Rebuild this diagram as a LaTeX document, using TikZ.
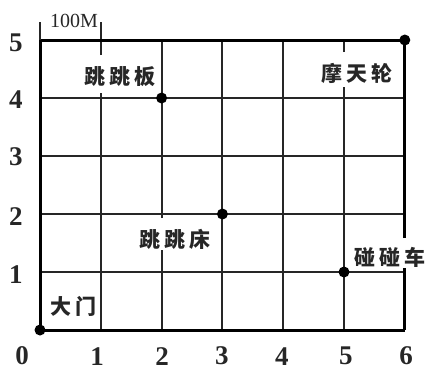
\documentclass[tikz,border=0pt]{standalone}
\usepackage{fontspec}
\setmainfont{Liberation Serif}
\newfontfamily\cjk{Noto Sans CJK SC}
\newcommand{\csp}{\kern4pt}
\begin{document}
\begin{tikzpicture}[x=60.8pt,y=58pt,
  thin line/.style={line width=2pt,black!85},
  thick line/.style={line width=3pt,black},
  pointdot/.style={circle,fill=black,inner sep=0pt,minimum size=11pt},
  place/.style={font=\cjk\fontsize{21}{21}\selectfont\bfseries,inner sep=0pt,text=black!85},
  num/.style={font=\fontsize{27}{27}\selectfont\bfseries,inner sep=0pt,text=black!85}]
\useasboundingbox (-0.658,-0.707) rectangle (6.398,5.69);
% horizontal interior lines
\foreach \y in {1,2,3,4} \draw[thin line] (0,\y) -- (6,\y);
% vertical interior lines
\draw[thin line] (1,0) -- (1,4.086) (1,4.741) -- (1,5.31);
\draw[thin line] (2,0) -- (2,1.379) (2,1.93) -- (2,5);
\draw[thin line] (3,0) -- (3,5);
\draw[thin line] (4,0) -- (4,5);
\draw[thin line] (5,0) -- (5,4.19) (5,4.79) -- (5,5);
% border
\draw[thick line] (0,0) -- (6,0);
\draw[thick line] (0,5) -- (6,5);
\draw[thick line] (0,0) -- (0,5);
\draw[thin line] (0,5) -- (0,5.31);
\draw[thick line] (6,0) -- (6,1.069) (6,1.586) -- (6,5);
% scale label
\node[font=\fontsize{20}{20}\selectfont,inner sep=0pt,text=black!85] (scale) at (0.559,5.33) {100M};
% points
\node[pointdot] (gate) at (0,0) {};
\node[pointdot] (board) at (2,4) {};
\node[pointdot] (bed) at (3,2) {};
\node[pointdot] (car) at (5,1) {};
\node[pointdot] (wheel) at (6,5) {};
% place labels
\node[place] (lgate) at (0.543,0.414) {大\csp 门};
\node[place] (lboard) at (1.316,4.362) {跳\csp 跳\csp 板};
\node[place] (lbed) at (2.22,1.569) {跳\csp 跳\csp 床};
\node[place] (lcar) at (5.757,1.259) {碰\csp 碰\csp 车};
\node[place] (lwheel) at (5.214,4.431) {摩\csp 天\csp 轮};
% axis numbers
\node[num] (y5) at (-0.395,4.948) {5};
\node[num] (y4) at (-0.395,3.966) {4};
\node[num] (y3) at (-0.395,2.983) {3};
\node[num] (y2) at (-0.395,1.948) {2};
\node[num] (y1) at (-0.395,0.948) {1};
\node[num] (x0) at (-0.296,-0.45) {0};
\node[num] (x1) at (0.938,-0.45) {1};
\node[num] (x2) at (2.007,-0.45) {2};
\node[num] (x3) at (2.993,-0.45) {3};
\node[num] (x4) at (3.98,-0.45) {4};
\node[num] (x5) at (5.03,-0.45) {5};
\node[num] (x6) at (6.02,-0.45) {6};
\end{tikzpicture}
\end{document}
